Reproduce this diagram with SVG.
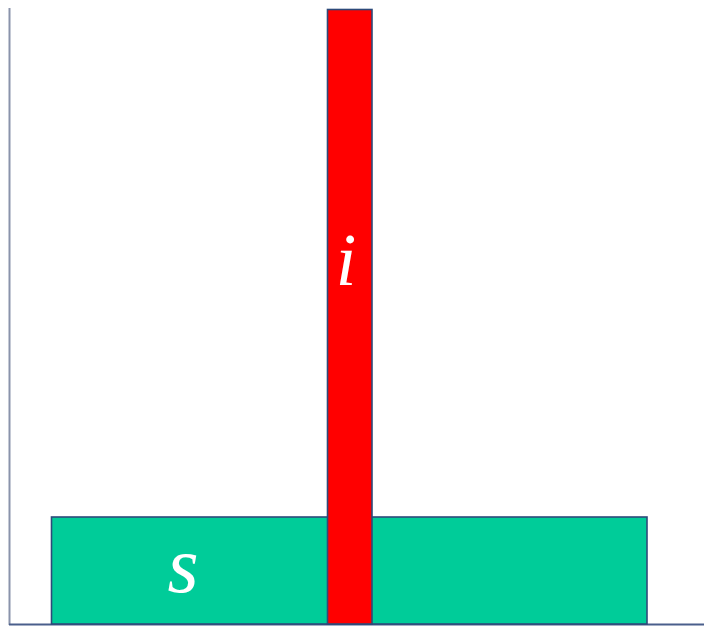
<svg xmlns="http://www.w3.org/2000/svg" width="704" height="627" viewBox="0 0 704 627">
<style>
.lbl{font-family:"Liberation Serif","Times New Roman",serif;font-style:italic;fill:#fff;text-anchor:middle}
.bar{stroke:#2d4a7a;stroke-width:1.6}
</style>
<rect width="704" height="627" fill="#fff"/>
<g id="axes">
<line x1="9.5" y1="8" x2="9.5" y2="625" stroke="#8a93ab" stroke-width="2"/>
<line x1="9" y1="624.5" x2="704" y2="624.5" stroke="#4a5f8c" stroke-width="2"/>
</g>
<g id="s">
<rect class="bar" x="51.5" y="517" width="595.5" height="107" fill="#00cc99"/>
<text class="lbl" x="183" y="592" font-size="80">s</text>
</g>
<g id="i">
<rect class="bar" x="327.5" y="9.5" width="44.5" height="614.5" fill="#ff0000"/>
<text class="lbl" x="346" y="285" font-size="74">i</text>
</g>
</svg>
